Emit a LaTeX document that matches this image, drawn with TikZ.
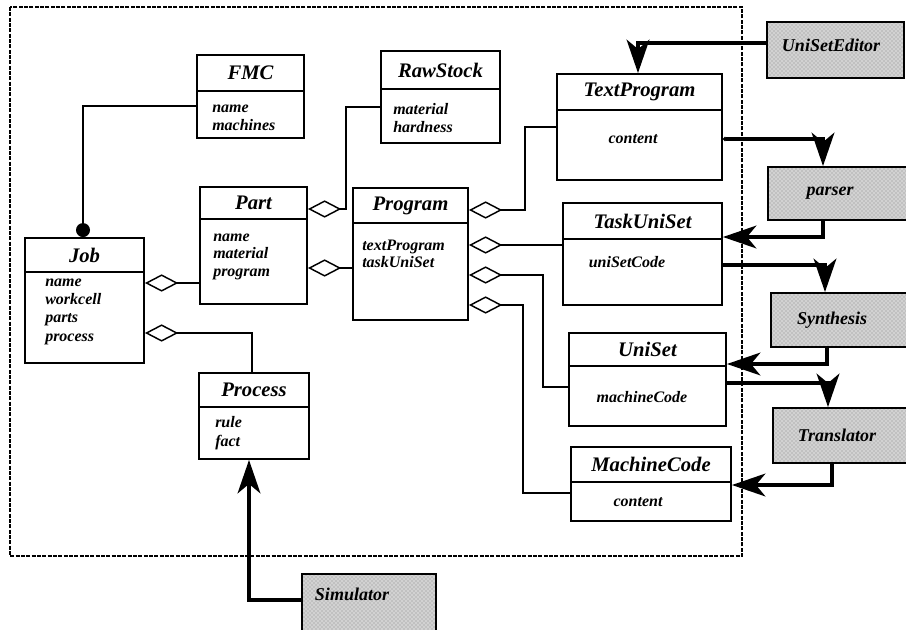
\documentclass[tikz,border=0pt]{standalone}
\usepackage{fontspec}
\setmainfont{Liberation Serif}
\usetikzlibrary{arrows.meta,fit,patterns}

\tikzset{
  classbox/.style={draw, line width=1.4pt, inner sep=0pt},
  divider/.style={line width=1.4pt},
  ctitle/.style={font=\fontsize{15.5}{16}\selectfont\bfseries\itshape, inner sep=0pt},
  cattr/.style={font=\fontsize{12}{13}\selectfont\bfseries\itshape, inner sep=0pt, anchor=base west},
  cattrc/.style={font=\fontsize{12}{13}\selectfont\bfseries\itshape, inner sep=0pt},
  toolbox/.style={draw, line width=1.4pt, inner sep=0pt,
    preaction={fill=gray!35}, pattern=crosshatch dots, pattern color=gray!90},
  toollabel/.style={font=\fontsize{13.5}{15}\selectfont\bfseries\itshape, inner sep=0pt},
  assoc/.style={line width=1.1pt},
  agg/.style={line width=1.1pt, {Diamond[open,length=25pt,width=13pt,line width=1.1pt]}-},
  bigtip/.style={Stealth[length=25pt,width=17pt,inset=7pt]},
  flow/.style={line width=3pt, -{Stealth[length=25pt,width=17pt,inset=7pt]}},
}

\begin{document}
\begin{tikzpicture}[x=0.75pt, y=-0.75pt]
\useasboundingbox (0,0) rectangle (906,629);

% package boundary
\draw[line width=0.8pt, dash pattern=on 3pt off 1pt] (10,7) rectangle (742,556);

% ---------- classes ----------
\node[classbox, fit={(197,55) (304,138)}] (fmc) {};
\draw[divider] (fmc.west |- 0,91) -- (fmc.east |- 0,91);
\node[ctitle] (fmc-t) at (250.5,73) {FMC};
\node[cattr] (fmc-a1) at (212,112) {name};
\node[cattr] (fmc-a2) at (212,130) {machines};

\node[classbox, fit={(381,51) (500,143)}] (rs) {};
\draw[divider] (rs.west |- 0,89) -- (rs.east |- 0,89);
\node[ctitle] (rs-t) at (440.5,70) {RawStock};
\node[cattr] (rs-a1) at (393,114) {material};
\node[cattr] (rs-a2) at (393,132) {hardness};

\node[classbox, fit={(200,187) (307,304)}] (part) {};
\draw[divider] (part.west |- 0,219) -- (part.east |- 0,219);
\node[ctitle] (part-t) at (253.5,203) {Part};
\node[cattr] (part-a1) at (213,241) {name};
\node[cattr] (part-a2) at (213,258) {material};
\node[cattr] (part-a3) at (213,276) {program};

\node[classbox, fit={(353,188) (468,320)}] (prog) {};
\draw[divider] (prog.west |- 0,223) -- (prog.east |- 0,223);
\node[ctitle] (prog-t) at (410.5,205.5) {Program};
\node[cattr] (prog-a1) at (362,250) {textProgram};
\node[cattr] (prog-a2) at (362,267) {taskUniSet};

\node[classbox, fit={(25,238) (144,363)}] (job) {};
\draw[divider] (job.west |- 0,272) -- (job.east |- 0,272);
\node[ctitle] (job-t) at (84.5,255) {Job};
\node[cattr] (job-a1) at (45,286) {name};
\node[cattr] (job-a2) at (45,304) {workcell};
\node[cattr] (job-a3) at (45,322) {parts};
\node[cattr] (job-a4) at (45,341) {process};

\node[classbox, fit={(199,373) (309,459)}] (proc) {};
\draw[divider] (proc.west |- 0,407) -- (proc.east |- 0,407);
\node[ctitle] (proc-t) at (254,390) {Process};
\node[cattr] (proc-a1) at (215,427) {rule};
\node[cattr] (proc-a2) at (215,446) {fact};

\node[classbox, fit={(557,74) (722,180)}] (tp) {};
\draw[divider] (tp.west |- 0,110) -- (tp.east |- 0,110);
\node[ctitle] (tp-t) at (639.5,92) {TextProgram};
\node[cattrc] (tp-a1) at (633,139) {content};

\node[classbox, fit={(563,203) (722,305)}] (tu) {};
\draw[divider] (tu.west |- 0,239) -- (tu.east |- 0,239);
\node[ctitle] (tu-t) at (642.5,221) {TaskUniSet};
\node[cattrc] (tu-a1) at (627,262) {uniSetCode};

\node[classbox, fit={(569,333) (726,426)}] (us) {};
\draw[divider] (us.west |- 0,366) -- (us.east |- 0,366);
\node[ctitle] (us-t) at (647.5,349.5) {UniSet};
\node[cattrc] (us-a1) at (642,397) {machineCode};

\node[classbox, fit={(571,447) (731,521)}] (mc) {};
\draw[divider] (mc.west |- 0,482) -- (mc.east |- 0,482);
\node[ctitle] (mc-t) at (651,464.5) {MachineCode};
\node[cattrc] (mc-a1) at (638,502) {content};

% ---------- tools ----------
\node[toolbox, fit={(767,22) (904,78)}] (ed) {};
\node[toollabel] (ed-t) at (831,45) {UniSetEditor};
\node[toolbox, fit={(768,167) (920,220)}] (parser) {};
\node[toollabel] (parser-t) at (830,193) {parser};
\node[toolbox, fit={(771,293) (920,347)}] (syn) {};
\node[toollabel] (syn-t) at (832,320) {Synthesis};
\node[toolbox, fit={(773,408) (920,463)}] (tr) {};
\node[toollabel] (tr-t) at (837,435) {Translator};
\node[toolbox, fit={(302,574) (436,640)}] (sim) {};
\node[toollabel] (sim-t) at (352,594) {Simulator};

% ---------- associations ----------
\draw[assoc, {Circle[length=10.5pt]}-] (job.north -| 83,0) |- (fmc.west |- 0,106);
\draw[agg] (part.east |- 0,209) -- ++(38,0) |- (rs.west |- 0,107);
\draw[agg] (job.east |- 0,283) -- (part.west |- 0,283);
\draw[agg] (part.east |- 0,268) -- (prog.west |- 0,268);
\draw[agg] (job.east |- 0,333) -| (proc.north -| 252,0);
\draw[agg] (prog.east |- 0,210) -- ++(56,0) |- (tp.west |- 0,127);
\draw[agg] (prog.east |- 0,245) -- (tu.west |- 0,245);
\draw[agg] (prog.east |- 0,275) -- ++(74,0) |- (us.west |- 0,387);
\draw[agg] (prog.east |- 0,305) -- ++(54,0) |- (mc.west |- 0,493);

% ---------- tool data flow ----------
\draw[flow] (ed.west |- 0,43) -| (tp.north -| 638,0);
\draw[flow, {Circle[length=3pt]}-{Stealth[length=25pt,width=17pt,inset=7pt]}]
  (tp.east |- 0,139) -| (parser.north -| 823,0);
\draw[flow] (parser.south -| 823,0) |- (tu.east |- 0,237);
\draw[flow] (tu.east |- 0,265) -| (syn.north -| 825,0);
\draw[flow] (syn.south -| 827,0) |- (us.east |- 0,364);
\draw[flow] (us.east |- 0,383) -| (tr.north -| 828,0);
\draw[flow] (tr.south -| 832,0) |- (mc.east |- 0,485);
\draw[flow] (sim.west |- 0,600) -| (proc.south -| 249,0);
\end{tikzpicture}
\end{document}
